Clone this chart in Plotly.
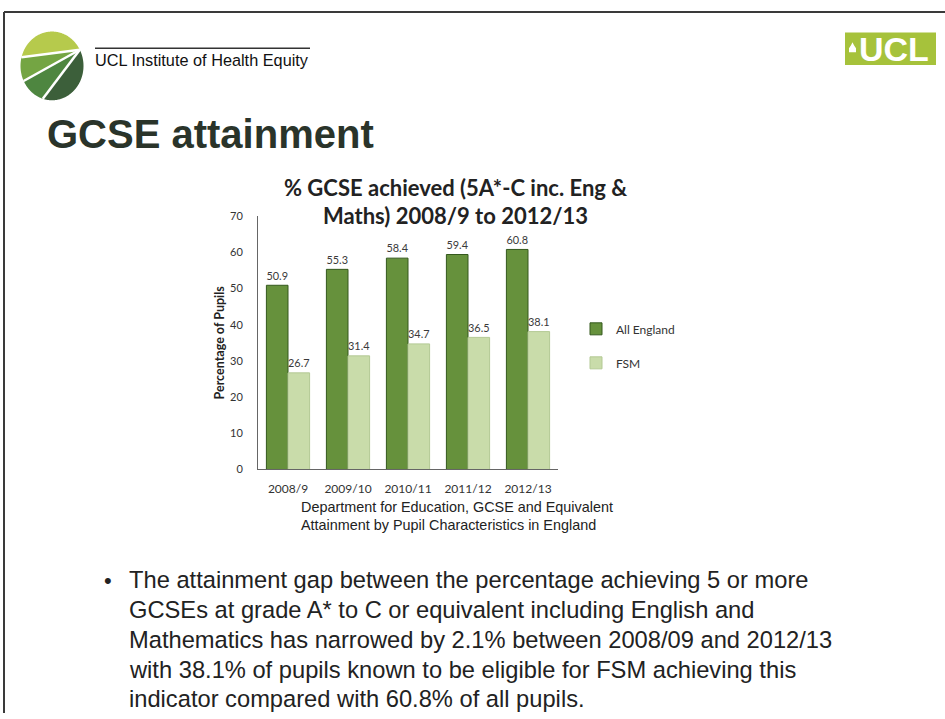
import numpy as np
import plotly.graph_objects as go

# ---- data -------------------------------------------------------------
years = ["2008/9", "2009/10", "2010/11", "2011/12", "2012/13"]
all_england = [50.9, 55.3, 58.4, 59.4, 60.8]
fsm = [26.7, 31.4, 34.7, 36.5, 38.1]
y_ticks = [0, 10, 20, 30, 40, 50, 60, 70]

chart_title = ["% GCSE achieved (5A*-C inc. Eng &", "Maths) 2008/9 to 2012/13"]
source_lines = ["Department for Education, GCSE and Equivalent",
                "Attainment by Pupil Characteristics in England"]
bullet_lines = [
    "The attainment gap between the percentage achieving 5 or more",
    "GCSEs at grade A* to C or equivalent including English and",
    "Mathematics has narrowed by 2.1% between 2008/09 and 2012/13",
    "with 38.1% of pupils known to be eligible for FSM achieving this",
    "indicator compared with 60.8% of all pupils.",
]

# ---- page geometry helpers (pixel -> paper) ---------------------------
W, H = 945, 719


def px(x):
    return x / W


def py(y):
    return 1 - y / H


def poly_path(points):
    return "M " + " L ".join(f"{px(x):.5f},{py(y):.5f}" for x, y in points) + " Z"


CHART_FONT = "Lato, 'Open Sans', sans-serif"
SLIDE_FONT = "'Liberation Sans', Arial, sans-serif"

fig = go.Figure()

fig.add_bar(
    x=years, y=all_england, name="All England", legendgroup="a",
    text=[f"{v:.1f}" for v in all_england], textposition="outside",
    textfont=dict(family=CHART_FONT, size=12, color="#3a3a3a"),
    marker=dict(color="#66913c", line=dict(color="#34591d", width=1)),
    cliponaxis=False,
)
fig.add_bar(
    x=years, y=fsm, name="FSM", legendgroup="b",
    text=[f"{v:.1f}" for v in fsm], textposition="outside",
    textfont=dict(family=CHART_FONT, size=12, color="#3a3a3a"),
    marker=dict(color="#c9dcaa", line=dict(color="#b3c994", width=1)),
    cliponaxis=False,
)

fig.update_layout(
    width=W, height=H,
    margin=dict(l=0, r=0, t=0, b=0),
    paper_bgcolor="white", plot_bgcolor="white",
    barmode="group", bargap=0.28, bargroupgap=0.0,
    showlegend=True,
    legend=dict(
        x=px(576), y=py(313), xanchor="left", yanchor="top",
        font=dict(family=CHART_FONT, size=12, color="#333"),
        tracegroupgap=15, bgcolor="rgba(0,0,0,0)",
        itemwidth=30,
    ),
    xaxis=dict(
        domain=[px(258), px(558)],
        showline=True, linecolor="#666", linewidth=1,
        ticks="", showgrid=False,
        tickfont=dict(family=CHART_FONT, size=12, color="#333"),
        ticklabelstandoff=8,
    ),
    yaxis=dict(
        domain=[py(471), py(213)], range=[0, 70],
        tickvals=y_ticks, showline=True, linecolor="#666", linewidth=1,
        ticks="", showgrid=False, zeroline=False,
        tickfont=dict(family=CHART_FONT, size=11, color="#333"),
        ticklabelstandoff=12,
        title=dict(text="Percentage of Pupils", standoff=2,
                   font=dict(family=CHART_FONT, size=12.5, color="#222",
                             weight="bold")),
    ),
)

annotations = []

# chart title (two lines, centred)
for i, line in enumerate(chart_title):
    annotations.append(dict(
        text=f"<b>{line}</b>", x=px(455), y=py(184 + 28 * i),
        xref="paper", yref="paper", xanchor="center", yanchor="middle",
        showarrow=False, font=dict(family=CHART_FONT, size=22, color="#222"),
    ))

# data source beneath the chart
for i, line in enumerate(source_lines):
    annotations.append(dict(
        text=line, x=px(299), y=py(509.5 + 18.5 * i),
        xref="paper", yref="paper", xanchor="left", yanchor="middle",
        showarrow=False, font=dict(family=SLIDE_FONT, size=14.4, color="#222"),
    ))

# slide heading
annotations.append(dict(
    text="<b>GCSE attainment</b>", x=px(45), y=py(129),
    xref="paper", yref="paper", xanchor="left", yanchor="middle",
    showarrow=False, font=dict(family=SLIDE_FONT, size=40, color="#2a342a"),
))

# institute name beside the logo
annotations.append(dict(
    text="UCL Institute of Health Equity", x=px(93), y=py(54),
    xref="paper", yref="paper", xanchor="left", yanchor="middle",
    showarrow=False, font=dict(family=SLIDE_FONT, size=16.3, color="#111"),
))

# UCL badge text
annotations.append(dict(
    text="<b>UCL</b>", x=px(894), y=py(43),
    xref="paper", yref="paper", xanchor="center", yanchor="middle",
    showarrow=False, font=dict(family=SLIDE_FONT, size=34, color="white"),
))

# bullet paragraph
annotations.append(dict(
    text="•", x=px(102), y=py(584),
    xref="paper", yref="paper", xanchor="left", yanchor="middle",
    showarrow=False, font=dict(family=SLIDE_FONT, size=22, color="#222"),
))
for i, line in enumerate(bullet_lines):
    annotations.append(dict(
        text=line, x=px(127), y=py(584 + 30.3 * i),
        xref="paper", yref="paper", xanchor="left", yanchor="middle",
        showarrow=False, font=dict(family=SLIDE_FONT, size=23.7, color="#222"),
    ))

fig.update_layout(annotations=annotations)

# ---- decorative slide elements ---------------------------------------
shapes = []

# slide frame (top and left edges)
shapes.append(dict(type="line", xref="paper", yref="paper",
                   x0=px(4), y0=py(5), x1=px(945), y1=py(5),
                   line=dict(color="#3a3a3a", width=2)))
shapes.append(dict(type="line", xref="paper", yref="paper",
                   x0=px(4), y0=py(5), x1=px(4), y1=py(719),
                   line=dict(color="#3a3a3a", width=2)))

# rule above the institute name
shapes.append(dict(type="line", xref="paper", yref="paper",
                   x0=px(95), y0=py(42), x1=px(310), y1=py(42),
                   line=dict(color="#333", width=1.5)))

# round striped logo: wedges fanning out from a point on the rim
cx, cy, rx, ry = 52.0, 60.0, 31.5, 35.0
t_apex = np.deg2rad(-28)
ax_, ay_ = cx + rx * np.cos(t_apex), cy + ry * np.sin(t_apex)
thetas = np.linspace(t_apex + 0.05, t_apex + 2 * np.pi - 0.05, 400)
rim = np.column_stack([cx + rx * np.cos(thetas), cy + ry * np.sin(thetas)])
phi = np.degrees(np.arctan2(rim[:, 1] - ay_, rim[:, 0] - ax_)) % 360
cuts = [0, 126.5, 150.5, 172.5, 360]
wedge_colors = ["#3c5f3a", "#4e8640", "#74a543", "#b6ca4c"]
for k, col in enumerate(wedge_colors):
    sel = (phi >= cuts[k]) & (phi < cuts[k + 1])
    pts = [(ax_, ay_)] + [tuple(p) for p in rim[sel]]
    shapes.append(dict(type="path", xref="paper", yref="paper",
                       path=poly_path(pts), fillcolor=col,
                       line=dict(width=0)))
for ang in cuts[1:4]:
    r = np.deg2rad(ang)
    # walk along the ray until it leaves the ellipse
    for d in np.linspace(0, 90, 900):
        qx, qy = ax_ + d * np.cos(r), ay_ + d * np.sin(r)
        if d > 2 and ((qx - cx) / rx) ** 2 + ((qy - cy) / ry) ** 2 > 1:
            break
    shapes.append(dict(type="line", xref="paper", yref="paper",
                       x0=px(ax_), y0=py(ay_), x1=px(qx), y1=py(qy),
                       line=dict(color="white", width=2.5)))

# UCL badge
shapes.append(dict(type="rect", xref="paper", yref="paper",
                   x0=px(845), y0=py(26), x1=px(936), y1=py(59),
                   fillcolor="#a6c23b", line=dict(width=0), layer="below"))
shapes.append(dict(type="path", xref="paper", yref="paper",
                   path=poly_path([(849, 46), (849, 42), (851, 39), (852.5, 36),
                                   (854, 39), (856, 42), (856, 46)]),
                   fillcolor="white", line=dict(width=0)))

fig.update_layout(shapes=shapes)

fig.write_html("out.html", config={"displayModeBar": False})
